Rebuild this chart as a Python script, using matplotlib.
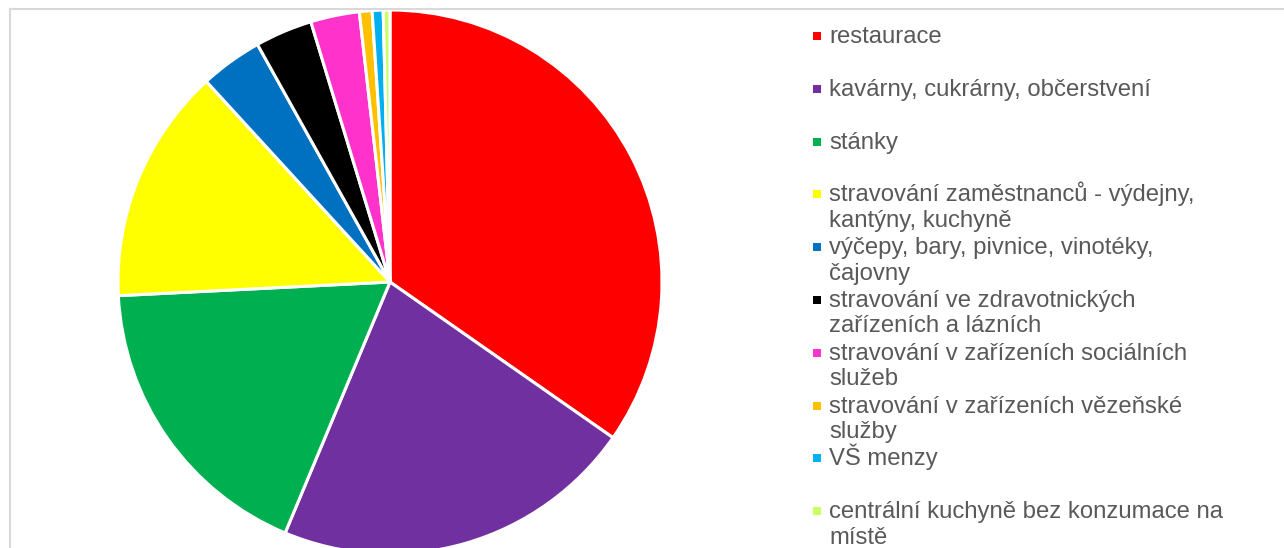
import matplotlib.pyplot as plt
from matplotlib.lines import Line2D
from matplotlib.patches import Rectangle

plt.rcParams['font.family'] = ['Liberation Sans', 'DejaVu Sans']

# data (shares in %)
labels = ['restaurace',
          'kavárny, cukrárny, občerstvení',
          'stánky',
          'stravování zaměstnanců - výdejny,\nkantýny, kuchyně',
          'výčepy, bary, pivnice, vinotéky,\nčajovny',
          'stravování ve zdravotnických\nzařízeních a lázních',
          'stravování v zařízeních sociálních\nslužeb',
          'stravování v zařízeních vězeňské\nslužby',
          'VŠ menzy',
          'centrální kuchyně bez konzumace na\nmístě']
values = [34.7, 21.6, 17.9, 14.0, 3.7, 3.4, 2.9, 0.75, 0.65, 0.4]
colors = ['#FF0000', '#7030A0', '#00B050', '#FFFF00', '#0070C0',
          '#000000', '#FF33CC', '#FFC000', '#00B0F0', '#CCFF66']

W, H = 1284, 548
fig = plt.figure(figsize=(W / 100, H / 100), dpi=100)

# pie, centre (390, 282) px, radius 272 px
cx, cy, r = 390, 282, 272
ax = fig.add_axes([(cx - r) / W, (H - cy - r) / H, 2 * r / W, 2 * r / H])
ax.pie(values, colors=colors, startangle=90, counterclock=False,
       wedgeprops=dict(edgecolor='white', linewidth=2.2))
ax.set_xlim(-1, 1)
ax.set_ylim(-1, 1)
ax.set_aspect('equal')
ax.axis('off')

# chart border (cut off right and bottom)
bc = '#D9D9D9'
fig.add_artist(Line2D([9.5 / W, 1], [1 - 8.5 / H] * 2, color=bc, lw=1.5, transform=fig.transFigure))
fig.add_artist(Line2D([9.5 / W] * 2, [0, 1 - 8.5 / H], color=bc, lw=1.5, transform=fig.transFigure))

# legend: one line of text at a time, first line baseline at yb
b0, step, lh = 43, 52.8, 25.5
for i, (lab, c) in enumerate(zip(labels, colors)):
    yb = b0 + i * step
    fig.add_artist(Rectangle((813 / W, 1 - (yb - 3) / H), 8 / W, 8 / H,
                             facecolor=c, edgecolor='none', transform=fig.transFigure))
    for j, line in enumerate(lab.split('\n')):
        fig.text(829 / W, 1 - (yb + j * lh) / H, line, fontsize=17.2,
                 color='#595959', va='baseline', ha='left')

fig.savefig('out.png', dpi=100)
